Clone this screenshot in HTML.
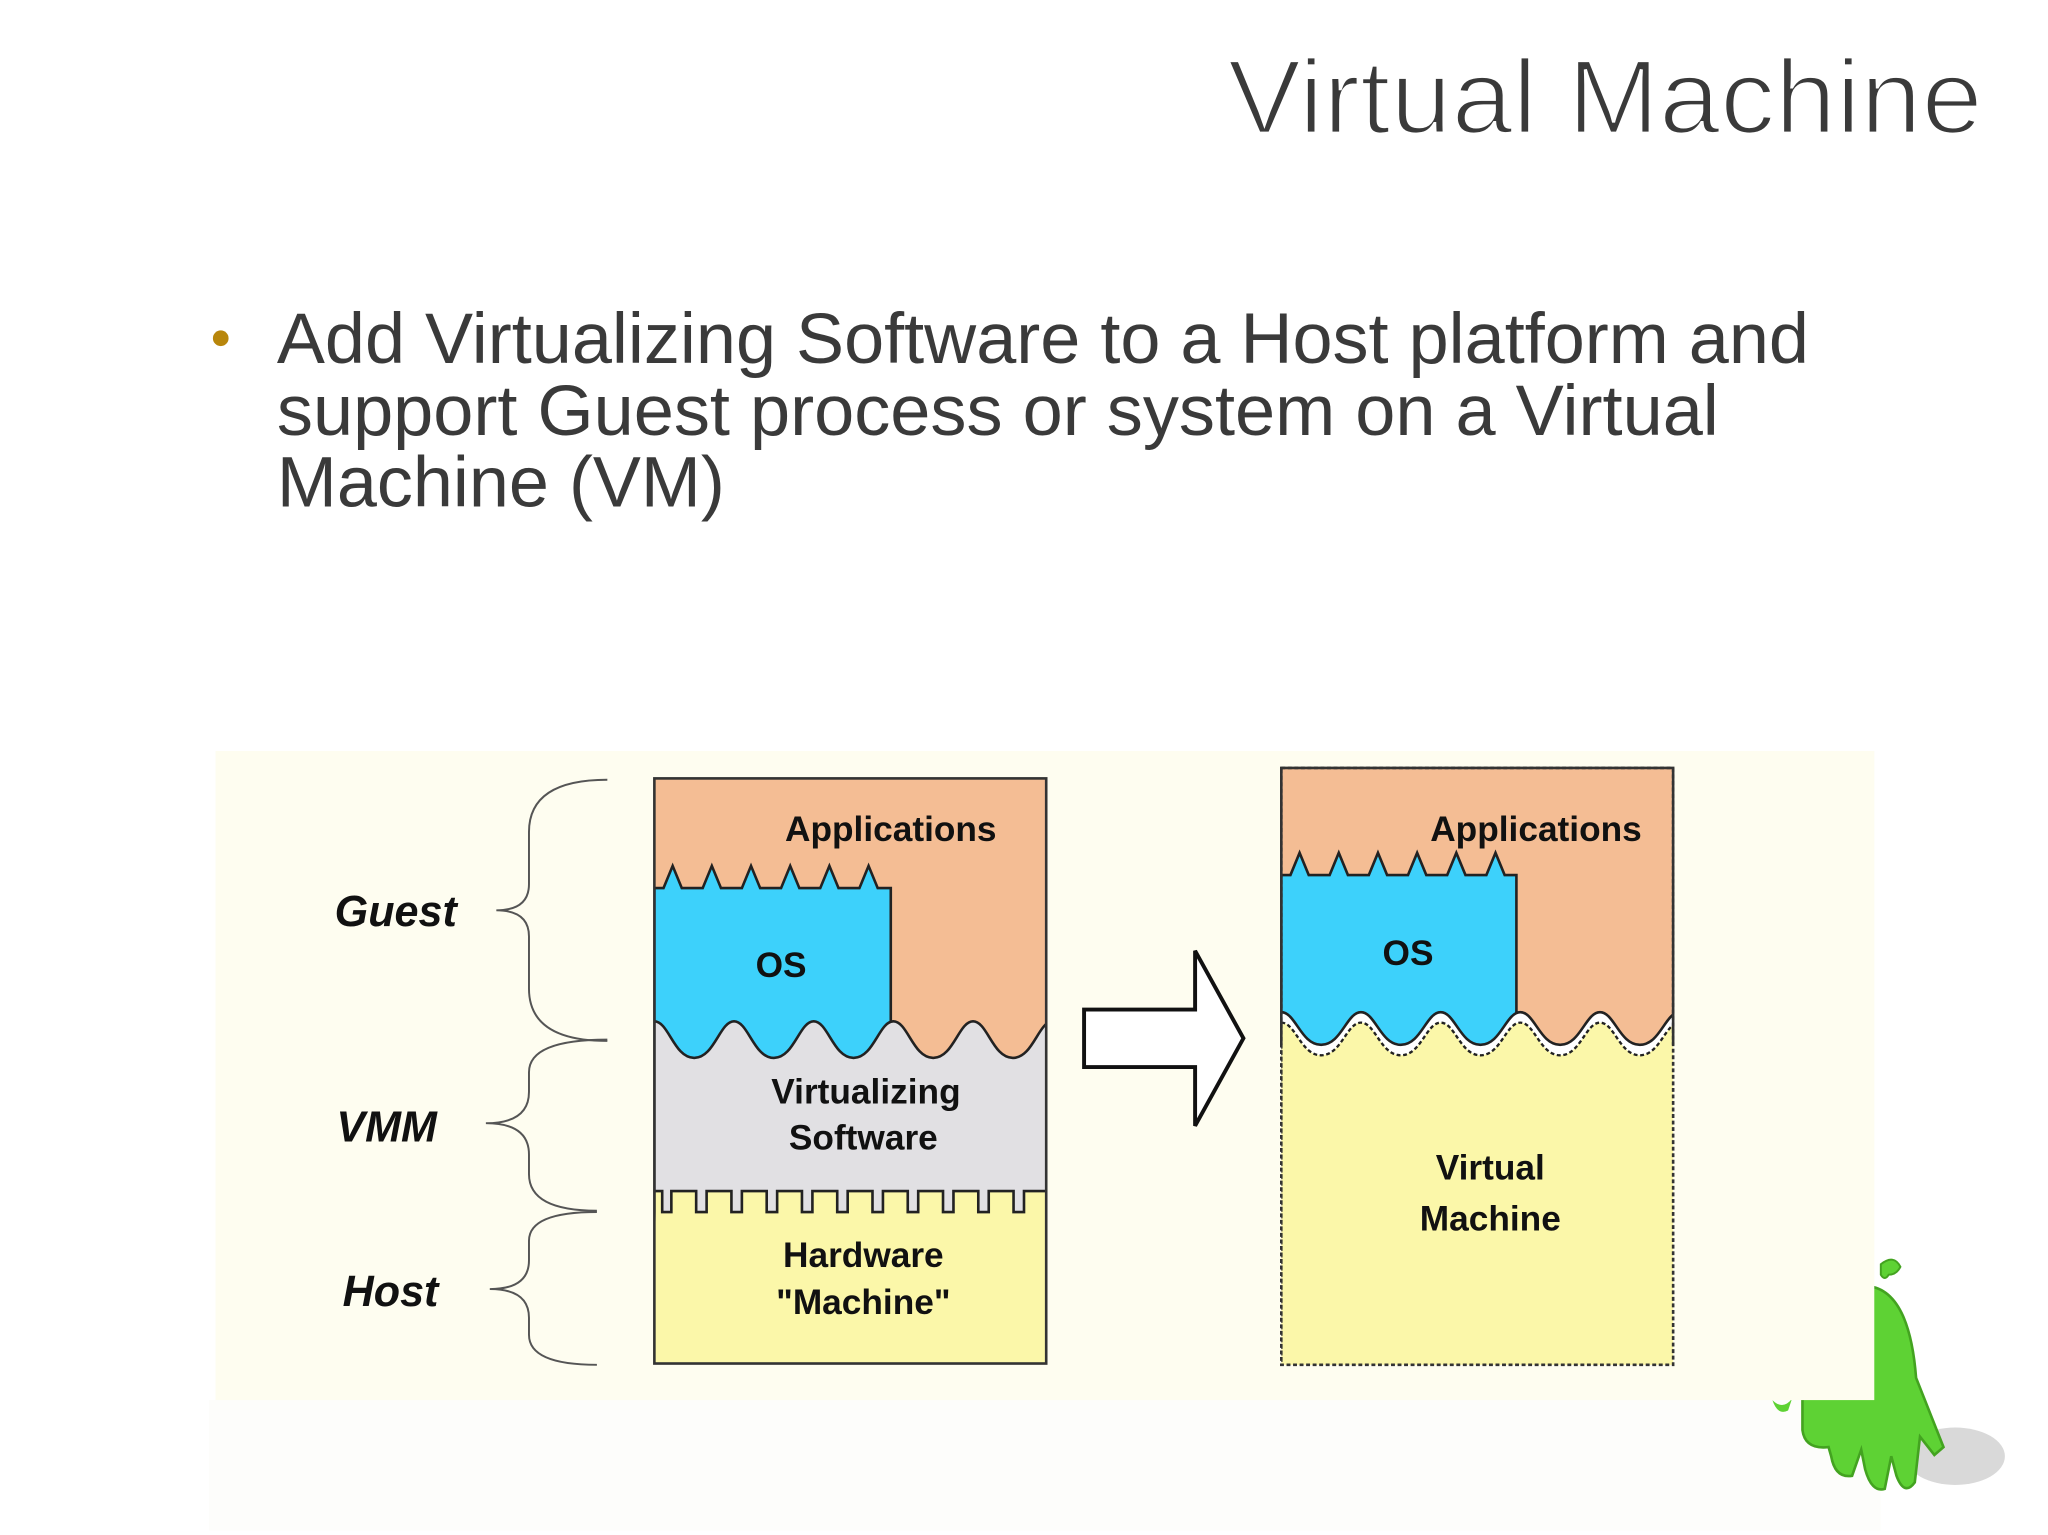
<!DOCTYPE html>
<html><head><meta charset="utf-8"><style>
html,body{margin:0;padding:0;background:#fff;}
svg{display:block;}
</style></head><body>
<svg width="2048" height="1535" viewBox="0 0 1568 1175.3" preserveAspectRatio="none" xmlns="http://www.w3.org/2000/svg">
<defs>
<clipPath id="cl"><rect x="501" y="596" width="300" height="448"/></clipPath>
<clipPath id="cr"><rect x="981" y="588" width="300" height="457"/></clipPath>
</defs>
<rect x="0" y="0" width="1568" height="1176" fill="#fff"/>
<text x="1518" y="102" text-anchor="end" font-family="Liberation Sans, sans-serif" font-size="80" fill="#3a3a3a" stroke="#fff" stroke-width="2.2" textLength="578" lengthAdjust="spacingAndGlyphs">Virtual Machine</text>
<circle cx="169" cy="259" r="6" fill="#b8860b"/>
<g font-family="Liberation Sans, sans-serif" font-size="55" fill="#3a3a3a">
<text x="212" y="278" textLength="1173" lengthAdjust="spacingAndGlyphs">Add Virtualizing Software to a Host platform and</text>
<text x="212" y="333" textLength="1104" lengthAdjust="spacingAndGlyphs">support Guest process or system on a Virtual</text>
<text x="212" y="388" textLength="343" lengthAdjust="spacingAndGlyphs">Machine (VM)</text>
</g>
<rect x="160" y="1072" width="1280" height="100" fill="#fdfdfb"/>
<!-- green character -->
<g>
<ellipse cx="1497" cy="1115" rx="38" ry="22" fill="#c9c9c9" opacity="0.7"/>
<path d="M1432 985 Q1462 990 1467 1055 L1488 1108 L1481 1114 L1470 1100 L1466 1135 Q1458 1146 1452 1130 L1448 1115 L1443 1140 Q1433 1143 1428 1125 L1425 1110 L1418 1130 Q1405 1132 1402 1115 L1400 1108 Q1382 1110 1380 1095 L1380 1072 Z" fill="#5ed234" stroke="#43a320" stroke-width="2"/>
<path d="M1440 968 q10 -8 15 2 q-3 6 -9 6 q-3 5 -6 0z" fill="#5ed234" stroke="#43a320" stroke-width="1.5"/>
<path d="M1357 1072 q8 8 15 -1 l-3 9 q-8 4 -12 -8z" fill="#5ed234"/>
</g>
<rect x="165" y="575" width="1270" height="497" fill="#fefdf0"/>
<!-- braces -->
<g fill="none" stroke="#555" stroke-width="1.5">
<path d="M465 597 q-60 0 -60 40 l0 40 q0 20 -25 20 q25 0 25 20 l0 40 q0 40 60 40"/>
<path d="M465 796 q-60 0 -60 25 l0 15 q0 24 -33 24 q33 0 33 24 l0 15 q0 28 52 28"/>
<path d="M457 928 q-52 0 -52 22 l0 15 q0 22 -30 22 q30 0 30 22 l0 13 q0 23 52 23"/>
</g>
<g font-family="Liberation Sans, sans-serif" font-size="33" font-weight="bold" font-style="italic" fill="#111">
<text x="303" y="709" text-anchor="middle">Guest</text>
<text x="296" y="874" text-anchor="middle">VMM</text>
<text x="299" y="1000" text-anchor="middle">Host</text>
</g>
<!-- left box -->
<g clip-path="url(#cl)">
<rect x="501" y="596" width="300" height="448" fill="#f4bd94"/>
<path d="M501 680 L508 680 L515 663 L522 680 L538 680 L545 663 L552 680 L568 680 L575 663 L582 680 L598 680 L605 663 L612 680 L628 680 L635 663 L642 680 L658 680 L665 663 L672 680 L682 680 L682 840 L501 840 Z" fill="#3dd1fb" stroke="#222" stroke-width="2"/>
<path d="M501 782 C512 782 516 810 531.5 810 S551 782 562 782 S577 810 592.5 810 S612 782 623 782 S638 810 653.5 810 S673 782 684 782 S699 810 714.5 810 S734 782 745 782 S760 810 775.5 810 S795 782 806 782 L806 930 L501 930 Z" fill="#e1e0e3" stroke="#222" stroke-width="2"/>
<path d="M501 928 L501 912 L507 912 L507 928 L514 928 L514 912 L533 912 L533 928 L541 928 L541 912 L560 912 L560 928 L568 928 L568 912 L587 912 L587 928 L595 928 L595 912 L614 912 L614 928 L622 928 L622 912 L641 912 L641 928 L649 928 L649 912 L668 912 L668 928 L676 928 L676 912 L695 912 L695 928 L703 928 L703 912 L722 912 L722 928 L730 928 L730 912 L749 912 L749 928 L757 928 L757 912 L776 912 L776 928 L784 928 L784 912 L803 912 L803 1050 L499 1050 Z" fill="#fbf7a9" stroke="#222" stroke-width="2"/>
</g>
<rect x="501" y="596" width="300" height="448" fill="none" stroke="#333" stroke-width="2"/>
<g font-family="Liberation Sans, sans-serif" font-size="27" font-weight="bold" fill="#111" text-anchor="middle">
<text x="682" y="644">Applications</text>
<text x="598" y="748">OS</text>
<text x="663" y="845">Virtualizing</text>
<text x="661" y="880">Software</text>
<text x="661" y="970">Hardware</text>
<text x="661" y="1006">"Machine"</text>
</g>
<!-- arrow -->
<path d="M830 773 L915 773 L915 728 L952 795 L915 862 L915 817 L830 817 Z" fill="#fff" stroke="#111" stroke-width="3"/>
<!-- right box -->
<g clip-path="url(#cr)">
<rect x="981" y="588" width="300" height="457" fill="#f4bd94"/>
<path d="M981 670 L988 670 L995 653 L1002 670 L1018 670 L1025 653 L1032 670 L1048 670 L1055 653 L1062 670 L1078 670 L1085 653 L1092 670 L1108 670 L1115 653 L1122 670 L1138 670 L1145 653 L1152 670 L1161 670 L1161 830 L981 830 Z" fill="#3dd1fb" stroke="#222" stroke-width="2"/>
<path d="M981 775 C992 775 996 800 1011.5 800 S1031 775 1042 775 S1057 800 1072.5 800 S1092 775 1103 775 S1118 800 1133.5 800 S1153 775 1164 775 S1179 800 1194.5 800 S1214 775 1225 775 S1240 800 1255.5 800 S1275 775 1286 775 L1286 1050 L981 1050 Z" fill="#fff"/>
<path d="M981 783 C992 783 996 808 1011.5 808 S1031 783 1042 783 S1057 808 1072.5 808 S1092 783 1103 783 S1118 808 1133.5 808 S1153 783 1164 783 S1179 808 1194.5 808 S1214 783 1225 783 S1240 808 1255.5 808 S1275 783 1286 783 L1286 1050 L981 1050 Z" fill="#fbf7a9" stroke="#222" stroke-width="1.8" stroke-dasharray="3 2"/>
<path d="M981 775 C992 775 996 800 1011.5 800 S1031 775 1042 775 S1057 800 1072.5 800 S1092 775 1103 775 S1118 800 1133.5 800 S1153 775 1164 775 S1179 800 1194.5 800 S1214 775 1225 775 S1240 800 1255.5 800 S1275 775 1286 775" fill="none" stroke="#222" stroke-width="2"/>
</g>
<rect x="981" y="588" width="300" height="457" fill="none" stroke="#333" stroke-width="2" stroke-dasharray="3 2"/>
<path d="M981 800 L981 588 L1281 588 L1281 800" fill="none" stroke="#333" stroke-width="2"/>
<g font-family="Liberation Sans, sans-serif" font-size="27" font-weight="bold" fill="#111" text-anchor="middle">
<text x="1176" y="644">Applications</text>
<text x="1078" y="739">OS</text>
<text x="1141" y="903">Virtual</text>
<text x="1141" y="942">Machine</text>
</g>
</svg>
</body></html>
